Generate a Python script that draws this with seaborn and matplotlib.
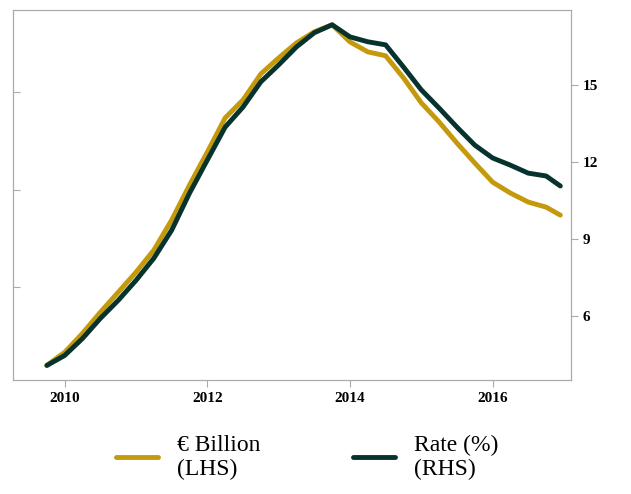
import matplotlib
matplotlib.use("Agg")
import matplotlib.pyplot as plt
import seaborn as sns
import pandas as pd

# quarterly dates
dates = [2009.75 + 0.25 * i for i in range(29)] + [2016.95]

billion_lhs = [6.0, 6.67, 7.64, 8.72, 9.74, 10.77, 11.90, 13.44, 15.23, 16.92,
               18.67, 19.59, 20.92, 21.74, 22.51, 23.08, 23.44, 22.56, 22.05, 21.85,
               20.72, 19.44, 18.46, 17.38, 16.36, 15.38, 14.82, 14.36, 14.10, 13.69]
rate_rhs = [4.09, 4.48, 5.14, 5.92, 6.62, 7.40, 8.26, 9.35, 10.79, 12.08,
            13.36, 14.14, 15.12, 15.78, 16.48, 17.03, 17.34, 16.87, 16.68, 16.56,
            15.70, 14.81, 14.10, 13.36, 12.66, 12.16, 11.88, 11.57, 11.46, 11.07]

df = pd.DataFrame({"date": dates, "billion": billion_lhs, "rate": rate_rhs})

sns.set_style("white")
plt.rcParams["font.family"] = ["Liberation Serif", "DejaVu Serif"]

GOLD = "#c49a0c"
DARK = "#07332e"
GREY = "#aaaaaa"

fig, ax = plt.subplots(figsize=(6.31, 4.94), dpi=100)
fig.subplots_adjust(left=0.02, right=0.905, top=0.98, bottom=0.23)
ax2 = ax.twinx()

sns.lineplot(data=df, x="date", y="billion", ax=ax, color=GOLD, lw=3.5, label="€ Billion\n(LHS)", legend=False)
sns.lineplot(data=df, x="date", y="rate", ax=ax2, color=DARK, lw=3.5, label="Rate (%)\n(RHS)", legend=False)

ax.set_xlim(2009.27, 2017.1)
ax.set_ylim(5.23, 24.2)
ax2.set_ylim(3.51, 17.92)
ax.set_yticks([10, 15, 20])
ax.set_yticklabels([])
ax2.set_yticks([6, 9, 12, 15])
ax.set_xticks([2010, 2012, 2014, 2016])
ax.set_xlabel("")
ax.set_ylabel("")
ax2.set_ylabel("")

for a in (ax, ax2):
    for s in a.spines.values():
        s.set_color(GREY)
    a.tick_params(colors=GREY, labelcolor="black", length=5, labelsize=11)
ax.tick_params(axis="y", direction="in", left=True)
ax.tick_params(axis="x", bottom=True)
ax2.tick_params(axis="y", right=True)
for lbl in ax.get_xticklabels() + ax2.get_yticklabels():
    lbl.set_fontweight("bold")

h1, l1 = ax.get_legend_handles_labels()
h2, l2 = ax2.get_legend_handles_labels()
fig.legend(h1 + h2, l1 + l2, loc="lower center", ncol=2, frameon=False,
           bbox_to_anchor=(0.487, -0.015), fontsize=17, handlelength=1.8,
           columnspacing=3.9, labelcolor="black", labelspacing=0.2)

fig.savefig("out.png", dpi=100)
